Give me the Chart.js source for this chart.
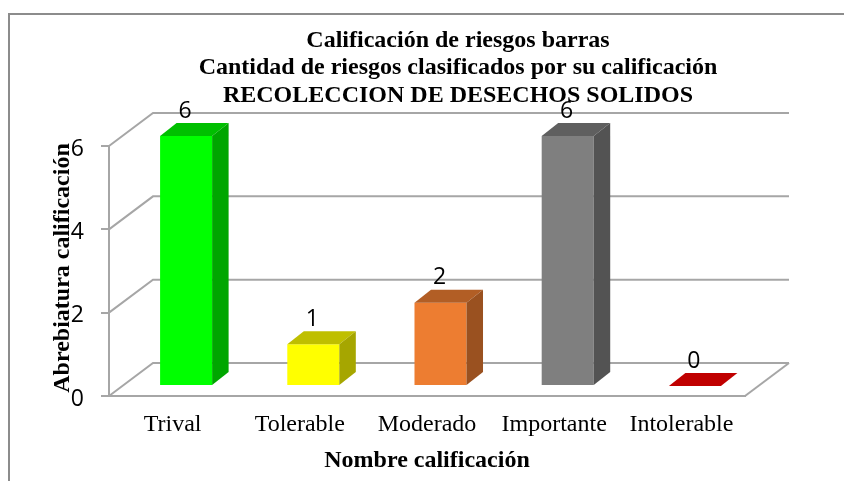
<!DOCTYPE html>
<html>
<head>
<meta charset="utf-8">
<title>Calificación de riesgos</title>
<script src="https://cdn.jsdelivr.net/npm/chart.js@4"></script>
<style>
    html, body { margin: 0; padding: 0; background: #fff; }
    #wrap { position: relative; width: 844px; height: 481px; overflow: hidden; }
    #riesgos { display: block; }
</style>
</head>
<body>
<div id="wrap"><canvas id="riesgos" width="844" height="481"></canvas></div>
<script>
// Datos
const categorias = ['Trival', 'Tolerable', 'Moderado', 'Importante', 'Intolerable'];
const valores = [6, 1, 2, 6, 0];
const colores = ['#00FF00', '#FFFF00', '#ED7D31', '#7F7F7F', '#C00000'];
const ticksY = [0, 2, 4, 6];
const titulo = [
    'Calificación de riesgos barras',
    'Cantidad de riesgos clasificados por su calificación',
    'RECOLECCION DE DESECHOS SOLIDOS'
];

const serif = '"Liberation Serif", "Times New Roman", serif';
const sans = '"Open Sans", sans-serif';
const gris = '#A6A6A6';

// Profundidad del piso y de las barras
const fondo = { x: 44, y: -33 };
const barra = { x: 16.5, y: -13 };
const despl = { x: 13.5, y: -10 };

function sombra(hex, f) {
    const n = parseInt(hex.slice(1), 16);
    const c = [n >> 16, (n >> 8) & 255, n & 255].map(v => Math.round(v * f));
    return `rgb(${c[0]},${c[1]},${c[2]})`;
}

function poligono(ctx, pts, color) {
    ctx.beginPath();
    pts.forEach((p, i) => i ? ctx.lineTo(p[0], p[1]) : ctx.moveTo(p[0], p[1]));
    ctx.closePath();
    ctx.fillStyle = color;
    ctx.fill();
}

const efecto3d = {
    id: 'efecto3d',
    afterLayout(chart) {
        // el titulo esta centrado sobre el area del grafico, no sobre el lienzo
        chart.titleBlock.left = 72;
        chart.titleBlock.right = 844;
    },
    beforeDatasetsDraw(chart) {
        const { ctx, scales: { x, y } } = chart;
        ctx.save();
        ctx.strokeStyle = gris;
        ctx.lineWidth = 2;
        ticksY.forEach(t => {
            const py = y.getPixelForValue(t);
            ctx.beginPath();
            ctx.moveTo(x.left, py);
            ctx.lineTo(x.left + fondo.x, py + fondo.y);
            ctx.lineTo(x.right + fondo.x, py + fondo.y);
            ctx.stroke();
        });
        const p0 = y.getPixelForValue(0);
        ctx.beginPath();
        ctx.moveTo(x.right, p0);
        ctx.lineTo(x.right + fondo.x, p0 + fondo.y);
        ctx.stroke();
        ctx.restore();

        ctx.save();
        ctx.translate(despl.x, despl.y);
    },
    afterDatasetsDraw(chart) {
        const { ctx } = chart;
        chart.getDatasetMeta(0).data.forEach((el, i) => {
            const { x, y, base, width } = el.getProps(['x', 'y', 'base', 'width'], true);
            const l = x - width / 2;
            const r = x + width / 2;
            poligono(ctx, [[l, y], [r, y], [r + barra.x, y + barra.y], [l + barra.x, y + barra.y]],
                valores[i] === 0 ? colores[i] : sombra(colores[i], 0.75));
            poligono(ctx, [[r, y], [r + barra.x, y + barra.y], [r + barra.x, base + barra.y], [r, base]],
                sombra(colores[i], 0.65));
            ctx.fillStyle = '#000';
            ctx.font = `23px ${sans}`;
            ctx.textAlign = 'center';
            ctx.textBaseline = 'middle';
            ctx.fillText(String(valores[i]), x - 1, y - 25);
        });
        ctx.restore();
    },
    afterDraw(chart) {
        const { ctx } = chart;
        ctx.save();
        ctx.strokeStyle = '#8C8C8C';
        ctx.lineWidth = 2;
        ctx.strokeRect(9, 14, 900, 600);
        ctx.restore();
    }
};

new Chart(document.getElementById('riesgos'), {
    type: 'bar',
    data: {
        labels: categorias,
        datasets: [{
            data: valores,
            backgroundColor: colores,
            categoryPercentage: 1,
            barPercentage: 0.409,
            clip: false
        }]
    },
    options: {
        responsive: false,
        animation: false,
        events: [],
        layout: { padding: { left: 48, right: 99, top: 0, bottom: 0 } },
        plugins: {
            legend: { display: false },
            tooltip: { enabled: false },
            title: {
                display: true,
                text: titulo,
                color: '#000',
                font: { family: serif, size: 24, weight: 'bold', lineHeight: 1.146 },
                padding: { top: 27, bottom: 36.5 }
            }
        },
        scales: {
            x: {
                grid: { display: false, drawTicks: false },
                border: { display: true, color: gris, width: 2 },
                ticks: { color: '#000', font: { family: serif, size: 24 }, padding: 14, maxRotation: 0, autoSkip: false },
                title: {
                    display: true,
                    text: 'Nombre calificación',
                    color: '#000',
                    font: { family: serif, size: 24, weight: 'bold' },
                    padding: { top: 0, bottom: 6 }
                },
                afterFit(scale) { scale.height = 85; }
            },
            y: {
                min: 0,
                max: 6,
                grid: { drawOnChartArea: false, color: gris, lineWidth: 2, tickLength: 8 },
                border: { display: true, color: gris, width: 2 },
                ticks: { stepSize: 2, color: '#000', font: { family: sans, size: 23 }, padding: 17, labelOffset: 3 },
                title: {
                    display: true,
                    text: ' Abrebiatura calificación',
                    color: '#000',
                    font: { family: serif, size: 24, weight: 'bold' },
                    padding: { top: 0, bottom: 0 }
                },
                afterFit(scale) { scale.width = 61; }
            }
        }
    },
    plugins: [efecto3d]
});
</script>
</body>
</html>
